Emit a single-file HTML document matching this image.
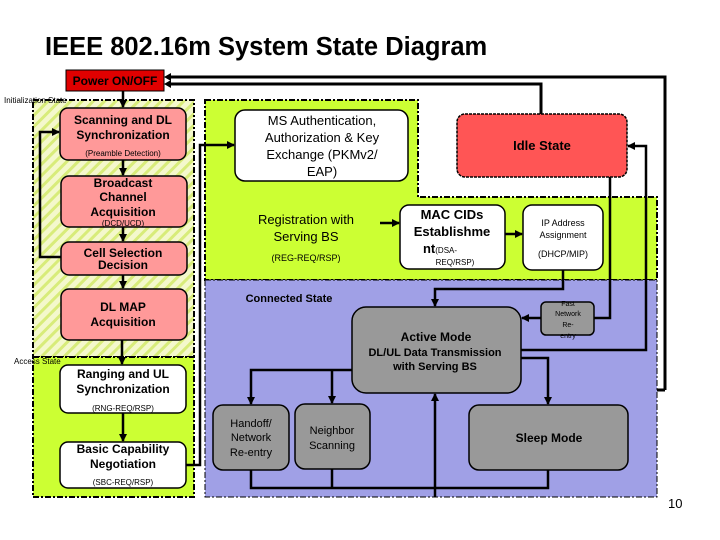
<!DOCTYPE html>
<html><head><meta charset="utf-8"><style>
body{margin:0;background:#fff;}
svg{display:block;font-family:"Liberation Sans",sans-serif;}
</style></head><body>
<svg width="720" height="540" viewBox="0 0 720 540">
<defs>
<pattern id="h" width="8" height="8" patternUnits="userSpaceOnUse" patternTransform="rotate(45)">
<rect width="8" height="8" fill="#f4f8cc"/><rect width="3" height="8" fill="#d8ec7a"/></pattern>
<marker id="a" markerUnits="userSpaceOnUse" markerWidth="8" markerHeight="8" refX="7" refY="4" orient="auto"><path d="M0,0L8,4L0,8z" fill="#000"/></marker>
</defs>
<text x="45" y="55" font-size="25.5" font-weight="bold">IEEE 802.16m System State Diagram</text>
<!-- regions -->
<rect x="33" y="100" width="161" height="257" fill="url(#h)" stroke="#000" stroke-width="2" stroke-dasharray="6,2,2,2"/>
<rect x="33" y="357" width="161" height="140" fill="#ccff33" stroke="#000" stroke-width="2" stroke-dasharray="6,2,2,2"/>
<path d="M205,100H418V197H657V280H205Z" fill="#ccff33" stroke="#000" stroke-width="2" stroke-dasharray="6,2,2,2"/>
<rect x="205" y="280" width="452" height="217" fill="#a0a0e6" stroke="#000" stroke-width="1" stroke-dasharray="6,2,2,2"/>
<text x="4" y="103" font-size="8">Initialization State</text>
<text x="14" y="364" font-size="8">Access State</text>
<!-- power -->
<rect x="66" y="70" width="98" height="21" fill="#e00000" stroke="#000"/>
<text x="115" y="85" font-size="12" font-weight="bold" text-anchor="middle">Power ON/OFF</text>
<g fill="none" stroke="#000" stroke-width="3">
<path d="M665,390V77H170"/><path d="M541,114V84H170"/>
<path d="M657,390H665"/>
</g>
<path d="M164,77l7,-4v8z M164,84l7,-4v8z" fill="#000"/>
<!-- flow -->
<g stroke="#000" stroke-width="2.5" fill="none" marker-end="url(#a)">
<path d="M123,91V107"/><path d="M123,160V175"/><path d="M123,227V241"/><path d="M123,275V288"/><path d="M122,340V364"/><path d="M123,413V441"/>
<path d="M61,257H40V132H59"/>
<path d="M186,465H200V145H234"/>
<path d="M380,223H399"/><path d="M505,234H522"/>
<path d="M563,270V289H435V306"/>
<path d="M610,177V318H598H522"/>
<path d="M521,350H646V146H628"/>
<path d="M521,358H548V404"/>
<path d="M435,497V394"/>
<path d="M352,370H251V404"/><path d="M332,370V403"/>
</g>
<path d="M251,470V488H548V470" fill="none" stroke="#000" stroke-width="2.5"/>
<path d="M332,469V488" stroke="#000" stroke-width="2.5"/>
<!-- boxes -->
<g stroke="#000" stroke-width="1.5">
<rect x="60" y="108" width="126" height="52" rx="8" fill="#f99"/>
<rect x="61" y="176" width="126" height="51" rx="8" fill="#f99"/>
<rect x="61" y="242" width="126" height="33" rx="8" fill="#f99"/>
<rect x="61" y="289" width="126" height="51" rx="8" fill="#f99"/>
<rect x="60" y="365" width="126" height="48" rx="8" fill="#fff"/>
<rect x="60" y="442" width="126" height="46" rx="8" fill="#fff"/>
<rect x="235" y="110" width="173" height="71" rx="10" fill="#fff"/>
<rect x="457" y="114" width="170" height="63" rx="8" fill="#f55" stroke-dasharray="3,1"/>
<rect x="400" y="205" width="105" height="64" rx="9" fill="#fff"/>
<rect x="523" y="205" width="80" height="65" rx="9" fill="#fff"/>
<rect x="352" y="307" width="169" height="86" rx="14" fill="#999"/>
<rect x="541" y="302" width="53" height="33" rx="5" fill="#999"/>
<rect x="469" y="405" width="159" height="65" rx="10" fill="#999"/>
<rect x="213" y="405" width="76" height="65" rx="10" fill="#999"/>
<rect x="295" y="404" width="75" height="65" rx="10" fill="#999"/>
</g>
<g font-size="12" font-weight="bold" text-anchor="middle">
<text x="123" y="124">Scanning and DL</text><text x="123" y="139">Synchronization</text>
<text x="123" y="156" font-size="8" font-weight="normal">(Preamble Detection)</text>
<text x="123" y="187">Broadcast</text><text x="123" y="201">Channel</text><text x="123" y="216">Acquisition</text>
<text x="123" y="226" font-size="8" font-weight="normal">(DCD/UCD)</text>
<text x="123" y="257">Cell Selection</text><text x="123" y="269">Decision</text>
<text x="123" y="311">DL MAP</text><text x="123" y="326">Acquisition</text>
<text x="123" y="378">Ranging and UL</text><text x="123" y="393">Synchronization</text>
<text x="123" y="411" font-size="8" font-weight="normal">(RNG-REQ/RSP)</text>
<text x="123" y="453">Basic Capability</text><text x="123" y="468">Negotiation</text>
<text x="123" y="485" font-size="8" font-weight="normal">(SBC-REQ/RSP)</text>
<g font-weight="normal" font-size="13">
<text x="322" y="125">MS Authentication,</text><text x="322" y="142">Authorization &amp; Key</text><text x="322" y="159">Exchange (PKMv2/</text><text x="322" y="176">EAP)</text>
<text x="306" y="224">Registration with</text><text x="306" y="241">Serving BS</text>
</g>
<text x="306" y="261" font-size="9" font-weight="normal">(REG-REQ/RSP)</text>
<text x="542" y="150" font-size="13">Idle State</text>
<text x="452" y="219" font-size="13">MAC CIDs</text><text x="452" y="236" font-size="13">Establishme</text>
<text x="440" y="253" font-size="13">nt<tspan font-size="8" font-weight="normal">(DSA-</tspan></text>
<text x="455" y="265" font-size="8" font-weight="normal">REQ/RSP)</text>
<text x="563" y="226" font-size="9" font-weight="normal">IP Address</text><text x="563" y="238" font-size="9" font-weight="normal">Assignment</text>
<text x="563" y="257" font-size="9" font-weight="normal">(DHCP/MIP)</text>
<text x="289" y="302" font-size="11">Connected State</text>
<text x="436" y="341" font-size="12">Active Mode</text>
<text x="435" y="356" font-size="11">DL/UL Data Transmission</text><text x="435" y="370" font-size="11">with Serving BS</text>
<g font-size="7" font-weight="normal"><text x="568" y="306">Fast</text><text x="568" y="316">Network</text><text x="568" y="327">Re-</text><text x="568" y="338">entry</text></g>
<text x="549" y="442" font-size="12">Sleep Mode</text>
<g font-size="11" font-weight="normal"><text x="251" y="427">Handoff/</text><text x="251" y="441">Network</text><text x="251" y="456">Re-entry</text>
<text x="332" y="434">Neighbor</text><text x="332" y="449">Scanning</text></g>
</g>
<text x="668" y="508" font-size="13">10</text>
</svg>
</body></html>
